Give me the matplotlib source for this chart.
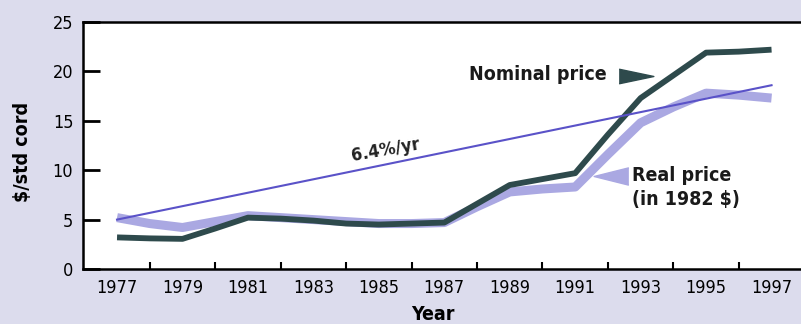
import matplotlib
import matplotlib.pyplot as plt
from matplotlib import font_manager

matplotlib.use('Agg')

years = [1977, 1978, 1979, 1980, 1981, 1982, 1983, 1984, 1985, 1986, 1987,
         1988, 1989, 1990, 1991, 1992, 1993, 1994, 1995, 1996, 1997]
nominal = [3.2, 3.1, 3.05, 4.1, 5.2, 5.1, 4.9, 4.6, 4.5, 4.6, 4.7,
           6.6, 8.5, 9.1, 9.7, 13.6, 17.3, 19.6, 21.9, 22.0, 22.2]
real = [5.2, 4.6, 4.2, 4.8, 5.4, 5.2, 5.0, 4.8, 4.6, 4.6, 4.7,
        6.3, 7.8, 8.1, 8.3, 11.6, 14.8, 16.4, 17.8, 17.6, 17.3]
trend_years = [1977, 1997]
trend_values = [5.0, 18.6]

x_ticks = list(range(1977, 1998, 2))
y_ticks = [0, 5, 10, 15, 20, 25]

BG = '#dcdced'
NOMINAL_C = '#2e4a4c'
REAL_C = '#aaa8e2'
TREND_C = '#5a52c8'

names = {f.name for f in font_manager.fontManager.ttflist}
print(sorted(n for n in names if 'Narrow' in n or 'Condensed' in n))
FONT = [n for n in ['Liberation Sans Narrow', 'DejaVu Sans Condensed']
        if n in names] + ['DejaVu Sans']
plt.rcParams['font.family'] = FONT
plt.rcParams['font.stretch'] = 'condensed'

fig = plt.figure(figsize=(8.01, 3.24), dpi=100, facecolor=BG)
ax = fig.add_axes([83 / 801, 1 - 269 / 324, 1 - 83 / 801, (269 - 22) / 324])
ax.set_facecolor('white')

ax.plot(years, real, color=REAL_C, linewidth=6.5, solid_capstyle='butt', zorder=2)
ax.plot(years, nominal, color=NOMINAL_C, linewidth=4.2, solid_capstyle='butt', zorder=3)
ax.plot(trend_years, trend_values, color=TREND_C, linewidth=1.5, zorder=4)

ax.set_xlim(1975.96, 1997.9)
ax.set_ylim(0, 25)
ax.set_xticks(x_ticks)
ax.set_xticklabels([str(y) for y in x_ticks])
ax.set_xticks(list(range(1978, 1998, 2)), minor=True)
ax.set_yticks(y_ticks)

ax.tick_params(axis='x', which='major', length=0, pad=7, labelsize=13)
ax.tick_params(axis='x', which='minor', direction='in', length=5, width=1.5)
ax.tick_params(axis='y', direction='in', length=12, width=2, pad=7, labelsize=13)

for side in ['left', 'bottom', 'top']:
    ax.spines[side].set_linewidth(1.8)
    ax.spines[side].set_color('black')
ax.spines['right'].set_visible(False)

# labels on the curves
ax.text(1985.2, 12.0, '6.4%/yr', rotation=10, ha='center', va='center',
        fontsize=13, fontweight='bold', color='#222222')
ax.text(1991.95, 19.7, 'Nominal price', ha='right', va='center',
        fontsize=14, fontweight='bold', color='#1a1a1a')
ax.plot([1992.85], [19.5], marker=[(-1, -0.42), (1, 0), (-1, 0.42)],
        markersize=25, color=NOMINAL_C, linestyle='none', zorder=5)
ax.text(1992.75, 10.4, 'Real price\n(in 1982 $)', ha='left', va='top',
        fontsize=14, fontweight='bold', color='#1a1a1a', linespacing=1.3)
ax.plot([1992.1], [9.4], marker=[(1, -0.5), (-1, 0), (1, 0.5)],
        markersize=25, color=REAL_C, linestyle='none', zorder=5)

fig.text(433 / 801, 1 - 315 / 324, 'Year', ha='center', va='center',
         fontsize=14, fontweight='bold')
fig.text(23 / 801, 1 - 152 / 324, '$/std cord', ha='center', va='center',
         rotation=90, fontsize=14, fontweight='bold')

fig.savefig('out.png', dpi=100, facecolor=BG)
